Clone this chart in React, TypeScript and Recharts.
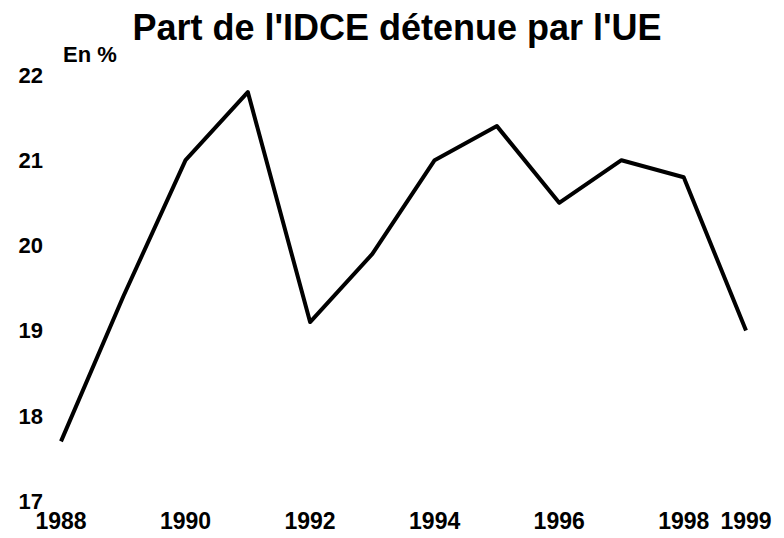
import React from "react";
import { LineChart, Line, XAxis, YAxis } from "recharts";

const years = [1988, 1989, 1990, 1991, 1992, 1993, 1994, 1995, 1996, 1997, 1998, 1999];
const shareEU = [17.7, 19.4, 21.0, 21.8, 19.1, 19.9, 21.0, 21.4, 20.5, 21.0, 20.8, 19.0];
const xTicks = [1988, 1990, 1992, 1994, 1996, 1998, 1999];
const yTicks = [17, 18, 19, 20, 21, 22];
const title = "Part de l'IDCE détenue par l'UE";
const unitLabel = "En %";

const data = years.map((y, i) => ({ year: y, value: shareEU[i] }));

const FONT = "'Liberation Sans', Arial, sans-serif";

export default function App() {
  return (
    <div style={{ position: "absolute", left: 0, top: 0, width: 784, height: 538, background: "#fff" }}>
      <LineChart
        width={784}
        height={538}
        data={data}
        margin={{ top: 75, right: 38, left: 0, bottom: 0 }}
      >
        <XAxis
          dataKey="year"
          type="number"
          domain={[1988, 1999]}
          ticks={xTicks}
          interval={0}
          axisLine={false}
          tickLine={false}
          tickSize={0}
          tickMargin={12}
          height={37}
          tick={{ fill: "#000", fontSize: 23, fontWeight: "bold", fontFamily: FONT }}
        />
        <YAxis
          type="number"
          domain={[17, 22]}
          ticks={yTicks}
          interval={0}
          axisLine={false}
          tickLine={false}
          tickSize={0}
          tickMargin={18}
          width={61}
          tick={{ fill: "#000", fontSize: 22, fontWeight: "bold", fontFamily: FONT }}
        />
        <Line
          type="linear"
          dataKey="value"
          stroke="#000"
          strokeWidth={4}
          dot={false}
          isAnimationActive={false}
          strokeLinejoin="round"
        />
      </LineChart>
      <svg
        width={784}
        height={538}
        style={{ position: "absolute", left: 0, top: 0, pointerEvents: "none" }}
      >
        <text x={397} y={40} textAnchor="middle" fontFamily={FONT} fontWeight="bold" fontSize={36} fill="#000">
          {title}
        </text>
        <text x={63} y={62} fontFamily={FONT} fontWeight="bold" fontSize={22} fill="#000">
          {unitLabel}
        </text>
      </svg>
    </div>
  );
}
